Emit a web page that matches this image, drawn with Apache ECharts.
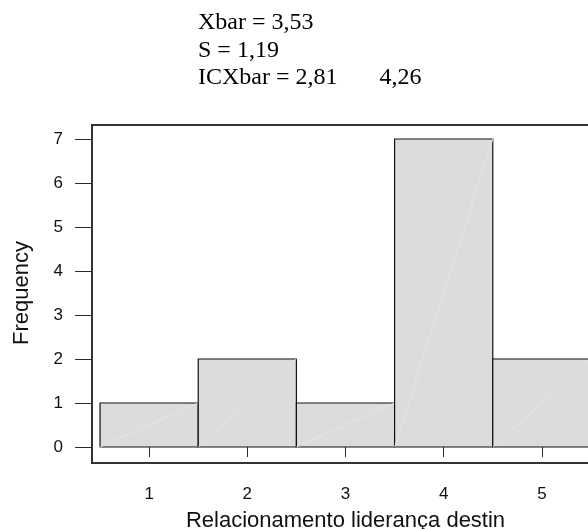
<!DOCTYPE html>
<html>
<head>
<meta charset="utf-8">
<script src="https://cdn.jsdelivr.net/npm/echarts@6/dist/echarts.min.js"></script>
<style>
html,body{margin:0;padding:0;background:#fff;}
#chart{width:588px;height:529px;}
</style>
</head>
<body>
<div id="chart"></div>
<script>
// ---- data ----
var categories = [1, 2, 3, 4, 5];
var frequencies = [1, 2, 1, 7, 2];
var yTicks = [0, 1, 2, 3, 4, 5, 6, 7];
var titleLines = ['Xbar = 3,53', 'S = 1,19', 'ICXbar = 2,81       4,26'];
var xTitle = 'Relacionamento lideran\u00e7a destin';
var yTitle = 'Frequency';

var histData = categories.map(function (c, i) { return [c, frequencies[i]]; });

var chart = echarts.init(document.getElementById('chart'), null, {renderer: 'canvas'});
var sans = 'Liberation Sans, Arial, sans-serif';
var axisColor = '#2a2a2a';

chart.setOption({
  backgroundColor: '#ffffff',
  animation: false,
  title: {
    text: titleLines.join('\n'),
    left: 198,
    top: 9,
    padding: 0,
    textStyle: {
      fontFamily: 'Liberation Serif, Times New Roman, serif',
      fontSize: 24,
      lineHeight: 27.5,
      fontWeight: 'normal',
      color: '#000'
    }
  },
  grid: [
    { // frame
      left: 92, top: 125, width: 507, height: 338,
      outerBoundsMode: 'none', containLabel: false,
      show: true, borderColor: '#333', borderWidth: 2, backgroundColor: 'transparent'
    },
    { // data area
      left: 92, top: 139, width: 507, height: 308,
      outerBoundsMode: 'none', containLabel: false
    }
  ],
  xAxis: [
    { gridIndex: 0, type: 'value', min: 0, max: 1, show: false },
    {
      gridIndex: 1, type: 'value', min: 0.418, max: 5.582,
      offset: 16,
      axisLine: { show: false },
      splitLine: { show: false },
      axisTick: { show: true, length: 10, customValues: categories, lineStyle: { color: axisColor, width: 1 } },
      axisLabel: { show: true, customValues: categories, margin: 23, fontSize: 17, fontFamily: sans, color: '#111' },
      name: xTitle,
      nameLocation: 'middle',
      nameGap: 47,
      nameTextStyle: { fontSize: 22, fontFamily: sans, color: '#111' }
    }
  ],
  yAxis: [
    { gridIndex: 0, type: 'value', min: 0, max: 1, show: false },
    {
      gridIndex: 1, type: 'value', min: 0, max: 7, interval: 1,
      axisLine: { show: false },
      splitLine: { show: false },
      axisTick: { show: true, length: 17, lineStyle: { color: axisColor, width: 1 } },
      axisLabel: { show: true, margin: 29, fontSize: 17, fontFamily: sans, color: '#111' },
      name: yTitle,
      nameLocation: 'middle',
      nameGap: 59,
      nameTextStyle: { fontSize: 22, fontFamily: sans, color: '#111' }
    }
  ],
  series: [{
    type: 'custom',
    xAxisIndex: 1,
    yAxisIndex: 1,
    data: histData,
    clip: false,
    renderItem: function (params, api) {
      var x = api.value(0), y = api.value(1);
      var p0 = api.coord([x - 0.5, 0]);
      var p1 = api.coord([x + 0.5, y]);
      return {
        type: 'group',
        children: [
          {
            type: 'rect',
            shape: { x: p0[0], y: p1[1], width: p1[0] - p0[0], height: p0[1] - p1[1] },
            style: { fill: '#dcdcdc', stroke: '#111', lineWidth: 1.2 }
          },
          {
            type: 'line',
            shape: { x1: p0[0], y1: p0[1], x2: p1[0], y2: p1[1] },
            style: { stroke: '#e6e6e6', lineWidth: 1 }
          }
        ]
      };
    }
  }]
});
</script>
</body>
</html>
